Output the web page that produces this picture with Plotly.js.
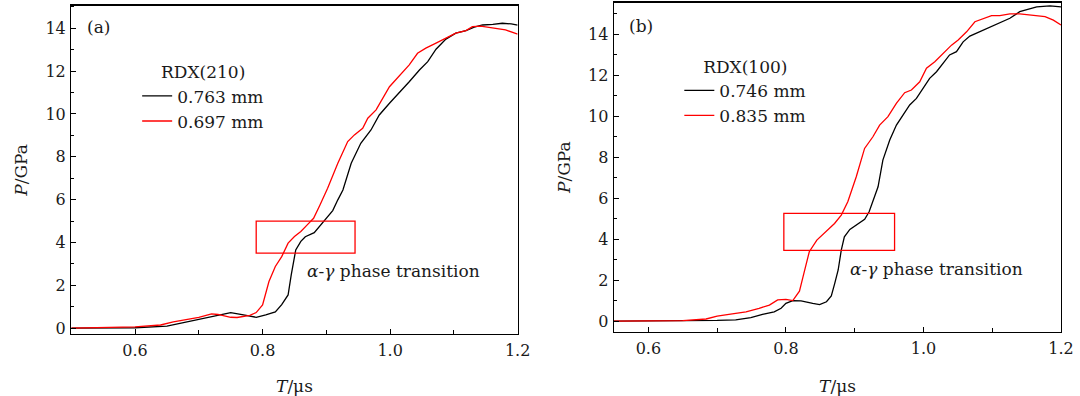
<!DOCTYPE html>
<html>
<head>
<meta charset="utf-8">
<script src="https://cdn.plot.ly/plotly-3.0.1.min.js"></script>
<style>html,body{margin:0;padding:0;background:#fff;}#chart{width:1080px;height:396px;}</style>
</head>
<body>
<div id="chart"></div>
<script>
// ---- Panel (a): RDX(210) ----
const a_black_t = [0.50,0.55,0.60,0.65,0.70,0.725,0.75,0.77,0.79,0.805,0.82,0.83,0.84,0.845,0.852,0.86,0.867,0.881,0.897,0.910,0.918,0.926,0.939,0.954,0.970,0.983,0.999,1.014,1.030,1.046,1.059,1.072,1.0875,1.103,1.119,1.132,1.145,1.161,1.176,1.190,1.200];
const a_black_p = [0.00,0.01,0.02,0.10,0.42,0.58,0.73,0.62,0.51,0.62,0.76,1.10,1.55,2.50,3.65,4.05,4.27,4.46,5.00,5.49,5.99,6.45,7.70,8.63,9.25,9.95,10.50,10.97,11.50,12.05,12.44,13.02,13.49,13.77,13.89,14.05,14.15,14.18,14.23,14.20,14.14];
const a_red_t = [0.50,0.55,0.60,0.64,0.66,0.70,0.72,0.73,0.75,0.76,0.78,0.79,0.80,0.81,0.82,0.83,0.835,0.84,0.85,0.86,0.87,0.88,0.89,0.902,0.918,0.9335,0.944,0.957,0.965,0.978,0.999,1.014,1.030,1.043,1.056,1.072,1.0875,1.103,1.119,1.129,1.142,1.155,1.181,1.200];
const a_red_p = [0.00,0.02,0.06,0.15,0.30,0.50,0.67,0.64,0.51,0.50,0.60,0.73,1.09,2.18,2.88,3.34,3.69,3.97,4.28,4.51,4.82,5.13,5.75,6.53,7.70,8.71,9.02,9.33,9.80,10.19,11.27,11.74,12.29,12.83,13.07,13.30,13.53,13.77,13.89,14.07,14.10,14.04,13.92,13.72];

// ---- Panel (b): RDX(100) ----
const b_black_t = [0.55,0.60,0.65,0.70,0.727,0.749,0.766,0.783,0.793,0.800,0.810,0.822,0.839,0.849,0.859,0.866,0.871,0.876,0.8805,0.885,0.893,0.905,0.9145,0.921,0.9266,0.934,0.941,0.951,0.9607,0.970,0.980,0.9898,0.9994,1.009,1.019,1.0286,1.038,1.048,1.0577,1.0675,1.082,1.0967,1.111,1.1257,1.140,1.1548,1.1647,1.184,1.200];
const b_black_p = [0.00,0.00,0.01,0.03,0.06,0.17,0.33,0.45,0.62,0.86,0.99,0.98,0.86,0.80,0.94,1.22,1.84,2.49,3.46,4.11,4.47,4.76,4.96,5.33,5.90,6.55,7.85,8.83,9.56,10.05,10.54,10.86,11.35,11.84,12.16,12.57,12.98,13.14,13.62,13.90,14.11,14.33,14.55,14.77,15.09,15.25,15.33,15.37,15.33];
const b_red_t = [0.55,0.60,0.65,0.684,0.70,0.722,0.742,0.761,0.776,0.788,0.800,0.810,0.8197,0.8255,0.834,0.845,0.8586,0.8707,0.8805,0.890,0.9023,0.9144,0.9265,0.9363,0.9484,0.9606,0.9727,0.9825,0.9946,1.0044,1.0165,1.0286,1.0408,1.0505,1.0627,1.0748,1.087,1.099,1.111,1.1257,1.140,1.1597,1.1768,1.1889,1.200];
const b_red_p = [0.00,0.00,0.02,0.10,0.24,0.35,0.45,0.62,0.78,1.03,1.06,1.00,1.46,2.24,3.38,3.95,4.36,4.76,5.17,5.82,7.04,8.42,8.99,9.56,9.97,10.62,11.14,11.27,11.67,12.33,12.65,13.06,13.46,13.71,14.11,14.60,14.77,14.90,14.90,14.98,14.98,14.93,14.85,14.68,14.44];

// labels
const seriesNames = {a: ["0.763 mm", "0.697 mm"], b: ["0.746 mm", "0.835 mm"]};
const legendTitles = {a: "RDX(210)", b: "RDX(100)"};
const panelLabels = ["(a)", "(b)"];
const noteText = "<i>α</i>-<i>γ</i> phase transition";
// phase-transition boxes [t0, t1, p0, p1]
const boxA = [0.79, 0.945, 3.5, 5.0];
const boxB = [0.797, 0.958, 3.45, 5.25];

const FONT = "DejaVu Serif, Liberation Serif, serif";
const BLACK = "#000000", RED = "#ff0000";
const TXT = "#1a1a1a";

const traces = [
  {x: a_black_t, y: a_black_p, name: seriesNames.a[0], xaxis: "x", yaxis: "y", legend: "legend", mode: "lines", line: {color: BLACK, width: 1.3}},
  {x: a_red_t, y: a_red_p, name: seriesNames.a[1], xaxis: "x", yaxis: "y", legend: "legend", mode: "lines", line: {color: RED, width: 1.3}},
  {x: b_black_t, y: b_black_p, name: seriesNames.b[0], xaxis: "x2", yaxis: "y2", legend: "legend2", mode: "lines", line: {color: BLACK, width: 1.3}},
  {x: b_red_t, y: b_red_p, name: seriesNames.b[1], xaxis: "x2", yaxis: "y2", legend: "legend2", mode: "lines", line: {color: RED, width: 1.3}}
];

function xax(domain, range, anchor) {
  return {
    domain: domain, range: range, anchor: anchor,
    showline: true, mirror: true, linecolor: "#000", linewidth: 1.3,
    ticks: "inside", ticklen: 5, tickwidth: 1, tickcolor: "#000",
    tick0: 0.6, dtick: 0.2, tickformat: ".1f",
    ticklabelstandoff: 2,
    minor: {ticks: "inside", dtick: 0.1, tick0: 0.5, ticklen: 4, tickcolor: "#000", showgrid: false},
    showgrid: false, zeroline: false,
    tickfont: {family: FONT, size: 16, color: TXT},
    title: {text: "<i>T</i>/μs", font: {family: FONT, size: 17, color: TXT}}
  };
}
function yax(domain, range, anchor) {
  return {
    domain: domain, range: range, anchor: anchor,
    showline: true, mirror: true, linecolor: "#000", linewidth: 1.3,
    ticks: "inside", ticklen: 5, tickwidth: 1, tickcolor: "#000",
    tick0: 0, dtick: 2,
    ticklabelstandoff: 1,
    minor: {ticks: "inside", dtick: 1, ticklen: 3, tickcolor: "#000", showgrid: false},
    showgrid: false, zeroline: false,
    tickfont: {family: FONT, size: 16, color: TXT},
    title: {text: "<i>P</i>/GPa", font: {family: FONT, size: 17, color: TXT}}
  };
}

const layout = {
  width: 1080, height: 396,
  margin: {l: 0, r: 0, t: 0, b: 0},
  paper_bgcolor: "#fff", plot_bgcolor: "#fff",
  font: {family: FONT, color: TXT},
  xaxis: xax([0.0660, 0.4793], [0.5, 1.2], "y"),
  yaxis: yax([0.1566, 0.9856], [-0.27, 15.05], "x"),
  xaxis2: xax([0.5685, 0.9824], [0.55, 1.2], "y2"),
  yaxis2: yax([0.1624, 0.9932], [-0.52, 15.53], "x2"),
  showlegend: true,
  legend: {
    x: 0.127, y: 0.858, xanchor: "left", yanchor: "top",
    bgcolor: "rgba(0,0,0,0)", borderwidth: 0,
    font: {family: FONT, size: 17, color: TXT},
    title: {text: legendTitles.a, side: "top center", font: {family: FONT, size: 17, color: TXT}},
    tracegroupgap: 0
  },
  legend2: {
    x: 0.629, y: 0.872, xanchor: "left", yanchor: "top",
    bgcolor: "rgba(0,0,0,0)", borderwidth: 0,
    font: {family: FONT, size: 17, color: TXT},
    title: {text: legendTitles.b, side: "top center", font: {family: FONT, size: 17, color: TXT}},
    tracegroupgap: 0
  },
  shapes: [
    {type: "rect", xref: "x", yref: "y", x0: boxA[0], x1: boxA[1], y0: boxA[2], y1: boxA[3], line: {color: RED, width: 1.3}},
    {type: "rect", xref: "x2", yref: "y2", x0: boxB[0], x1: boxB[1], y0: boxB[2], y1: boxB[3], line: {color: RED, width: 1.3}}
  ],
  annotations: [
    {xref: "x", yref: "y", x: 0.866, y: 2.69, xanchor: "left", yanchor: "middle", text: noteText, showarrow: false, font: {family: FONT, size: 17, color: TXT}},
    {xref: "x2", yref: "y2", x: 0.8905, y: 2.54, xanchor: "left", yanchor: "middle", text: noteText, showarrow: false, font: {family: FONT, size: 17, color: TXT}},
    {xref: "x", yref: "y", x: 0.522, y: 14.07, xanchor: "left", yanchor: "middle", text: panelLabels[0], showarrow: false, font: {family: FONT, size: 17, color: TXT}},
    {xref: "x2", yref: "y2", x: 0.569, y: 14.39, xanchor: "left", yanchor: "middle", text: panelLabels[1], showarrow: false, font: {family: FONT, size: 17, color: TXT}}
  ]
};

Plotly.newPlot("chart", traces, layout, {staticPlot: true, displayModeBar: false});
</script>
</body>
</html>
